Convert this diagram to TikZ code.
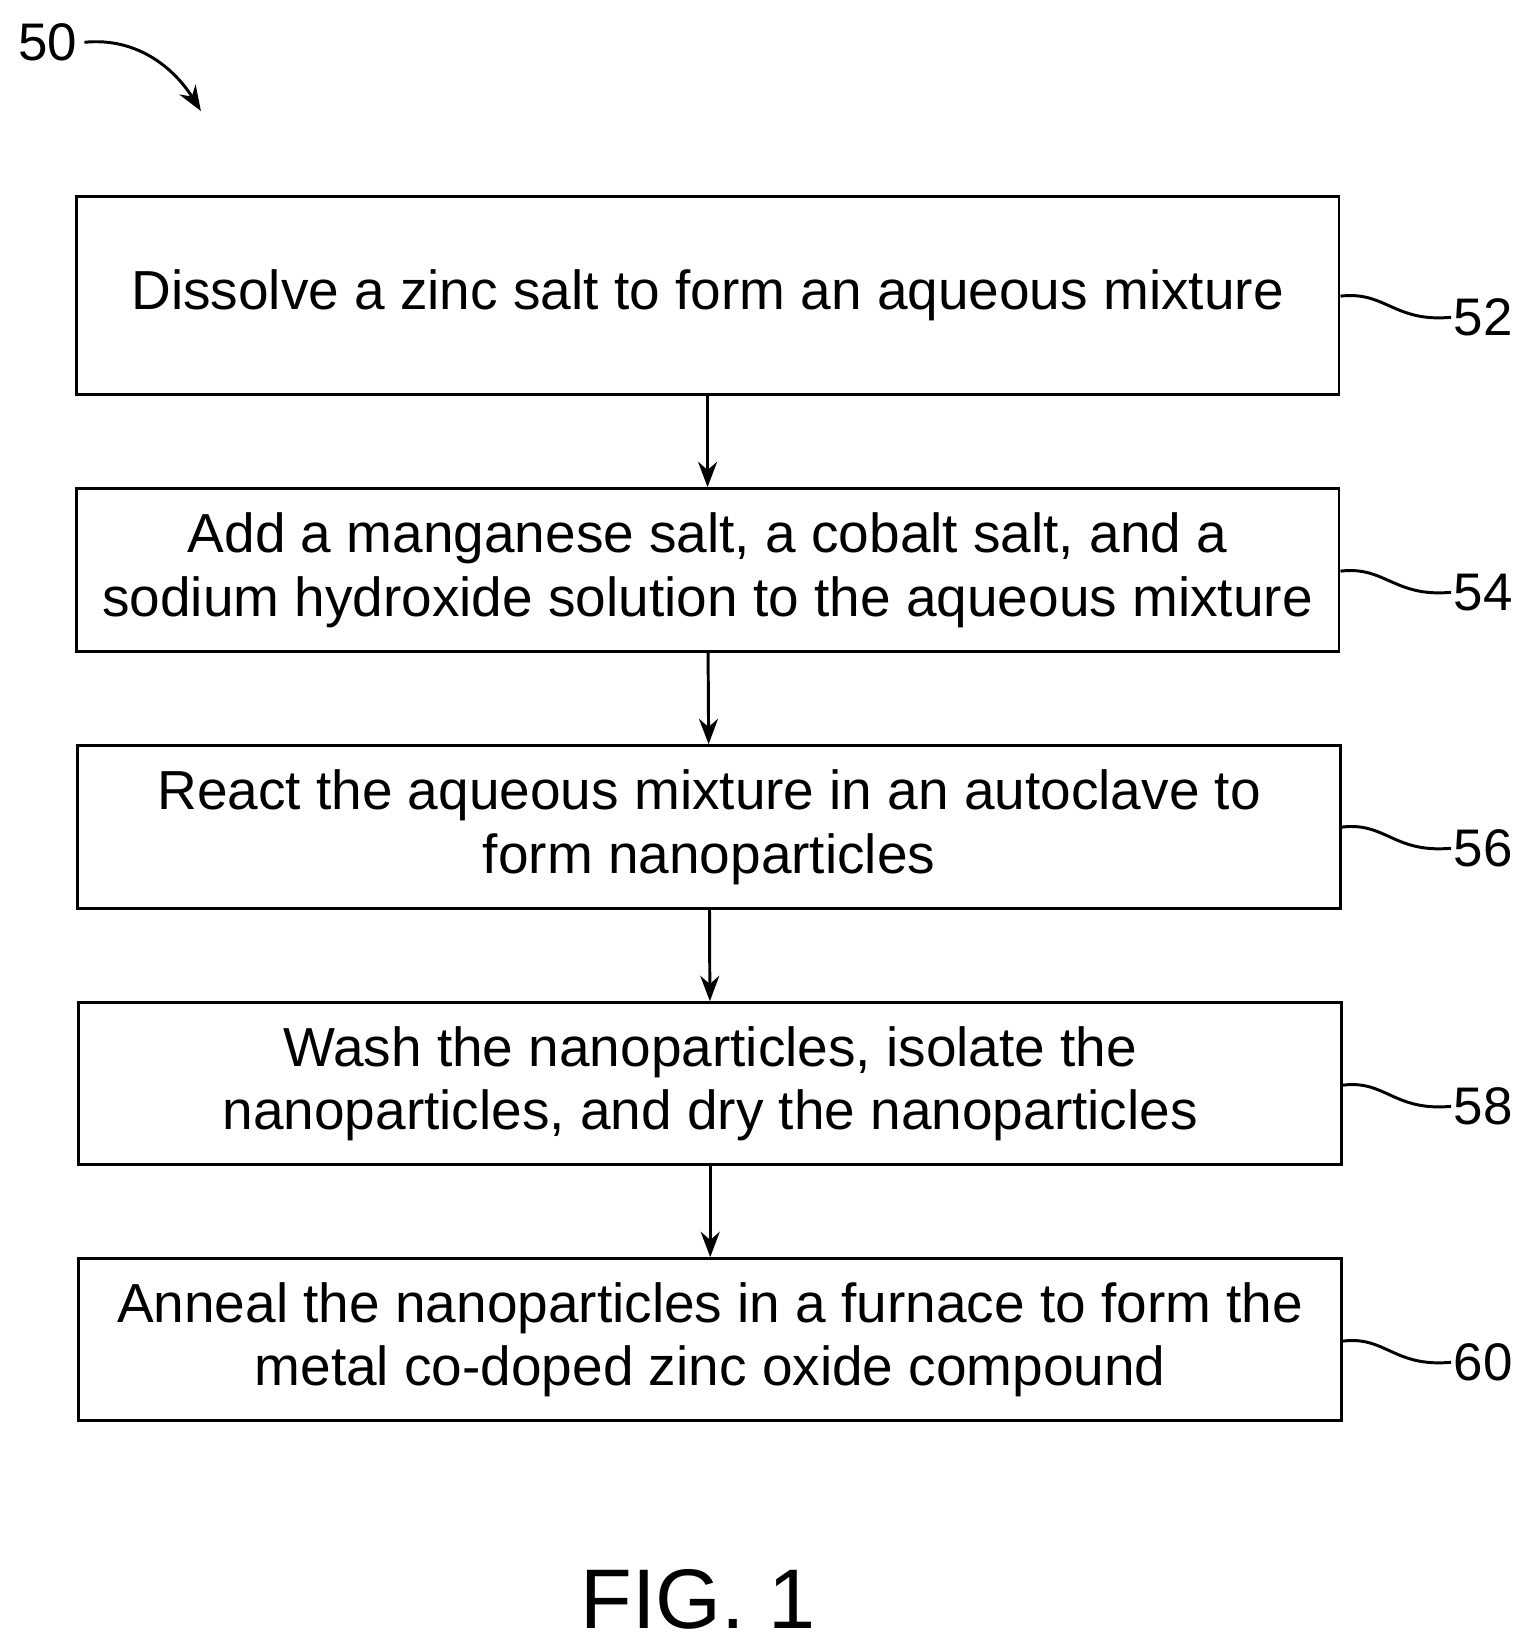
\documentclass[tikz,border=0pt]{standalone}
\usepackage{fontspec}
\setmainfont{Liberation Sans}
\usetikzlibrary{positioning,arrows.meta}
\tikzset{
  stage/.style={draw,line width=1.4pt,minimum width=597pt,align=center,font=\fontsize{26}{30}\selectfont,inner sep=0pt},
  ref/.style={font=\fontsize{25}{28}\selectfont,anchor=west,inner sep=1pt},
  flow/.style={-{Stealth[length=12pt,width=9pt]},line width=1.4pt},
  lead/.style={line width=1.4pt}
}
\begin{document}
\begin{tikzpicture}[x=0.5pt,y=-0.5pt]
\useasboundingbox (0,0) rectangle (1450,1561);

\node [stage,minimum height=93.5pt] at (669,279.5) (s52) {Dissolve a zinc salt to form an aqueous mixture};
\node [stage,minimum height=77pt] at (669,539) (s54) {Add a manganese salt, a cobalt salt, and a\\sodium hydroxide solution to the aqueous mixture};
\node [stage,minimum height=77pt] at (670.5,782) (s56) {React the aqueous mixture in an autoclave to\\form nanoparticles};
\node [stage,minimum height=76.5pt] at (671.5,1024.5) (s58) {Wash the nanoparticles, isolate the\\nanoparticles, and dry the nanoparticles};
\node [stage,minimum height=76.5pt] at (671.5,1266.5) (s60) {Anneal the nanoparticles in a furnace to form the\\metal co-doped zinc oxide compound};

\draw [flow] (s52) -- (s54);
\draw [flow] (s54) -- (s56);
\draw [flow] (s56) -- (s58);
\draw [flow] (s58) -- (s60);

% reference numerals
\foreach \s/\y in {52/300,54/560,56/802,58/1046,60/1288}{
  \node [ref] at (1372,\y) (r\s) {\s};
  \draw [lead] (s\s.east |- 0,\y-20) .. controls (1310,\y-25) and (1318,\y+5) .. (r\s.west);
}

\node [font=\fontsize{25}{28}\selectfont] at (45,40) (r50) {50};
\draw [-{Stealth[length=12pt,width=9pt]},line width=1.4pt] (r50.east) .. controls (130,35) and (165,65) .. (190,105);

\node [font=\fontsize{40}{44}\selectfont] at (660,1512) (fig) {FIG. 1};
\end{tikzpicture}
\end{document}
